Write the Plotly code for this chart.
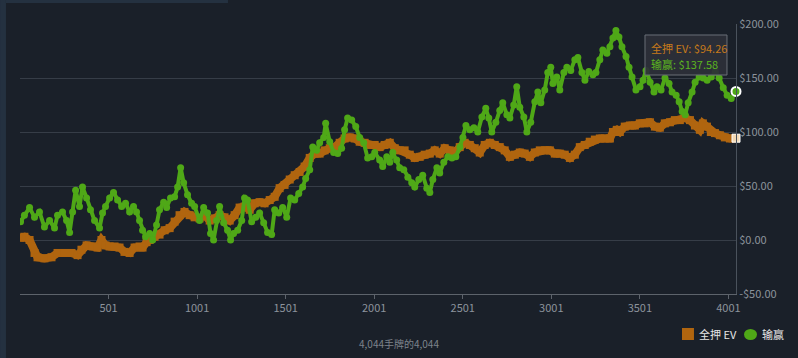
import plotly.graph_objects as go

# ---- data ----
win_hands = [4, 26, 55, 83, 111, 139, 168, 196, 213, 241, 264, 281, 298, 315, 337, 354, 377, 399, 422, 450,
             467, 484, 507, 529, 552, 575, 597, 620, 642, 659, 676, 693, 710, 733, 750, 772, 789, 812, 829, 851,
             874, 891, 908, 925, 947, 970, 987, 1015, 1038, 1060, 1077, 1094, 1111, 1128, 1151, 1173, 1190, 1207,
             1230, 1253, 1269, 1286, 1309, 1332, 1354, 1377, 1399, 1422, 1439, 1462, 1484, 1507, 1529, 1552, 1575,
             1597, 1614, 1637, 1654, 1676, 1693, 1716, 1727, 1750, 1772, 1795, 1817, 1834, 1851, 1874, 1897, 1919,
             1942, 1964, 1987, 2004, 2032, 2049, 2072, 2089, 2106, 2128, 2145, 2168, 2191, 2213, 2230, 2253, 2275,
             2298, 2315, 2332, 2355, 2371, 2394, 2417, 2440, 2462, 2485, 2502, 2519, 2541, 2564, 2586, 2609, 2631,
             2648, 2665, 2688, 2710, 2727, 2750, 2767, 2789, 2806, 2823, 2846, 2863, 2885, 2908, 2925, 2942, 2964,
             2981, 2998, 3010, 3032, 3049, 3072, 3089, 3111, 3134, 3151, 3174, 3191, 3213, 3236, 3253, 3275, 3292,
             3315, 3332, 3349, 3366, 3383, 3400, 3423, 3440, 3457, 3479, 3502, 3519, 3536, 3559, 3581, 3598, 3621,
             3643, 3666, 3683, 3706, 3723, 3740, 3757, 3774, 3796, 3813, 3836, 3859, 3881, 3904, 3927, 3949, 3972,
             3994, 4017, 4044]
win_values = [17, 23, 30, 21, 26, 12, 18, 11, 23, 26, 18, 7, 26, 46, 31, 49, 39, 28, 18, 11,
              25, 31, 39, 44, 37, 31, 34, 26, 31, 26, 18, 9, 3, 6, 0, 14, 28, 35, 30, 39,
              40, 49, 67, 53, 42, 34, 31, 18, 30, 25, 6, 0, 18, 31, 16, 9, 0, 6,
              9, 18, 39, 37, 17, 21, 25, 16, 7, 5, 28, 25, 30, 21, 39, 37, 43,
              49, 57, 65, 86, 83, 90, 95, 108, 91, 81, 80, 85, 102, 113, 111, 105, 95,
              90, 76, 77, 81, 74, 68, 77, 72, 81, 74, 67, 65, 58, 53, 49, 56, 60,
              48, 44, 56, 67, 62, 72, 77, 76, 77, 86, 95, 106, 102, 104, 100, 114, 122,
              113, 100, 109, 120, 127, 116, 113, 125, 142, 123, 114, 100, 109, 128, 137, 127, 139,
              155, 160, 145, 151, 139, 155, 160, 157, 167, 169, 155, 148, 156, 153, 155, 167, 176,
              173, 179, 187, 194, 188, 179, 170, 160, 151, 139, 142, 148, 157, 146, 137, 142, 139,
              150, 145, 137, 134, 128, 119, 116, 127, 137, 146, 151, 150, 148, 151, 156, 150, 141,
              134, 131, 137.58]

ev_hands = [4, 26, 55, 83, 100, 139, 179, 213, 252, 292, 326, 348, 377, 411, 439, 461, 484, 507, 535, 563,
            591, 620, 648, 676, 693, 716, 733, 761, 789, 818, 846, 874, 902, 930, 959, 987, 1015, 1043, 1072,
            1100, 1128, 1156, 1185, 1213, 1241, 1269, 1298, 1326, 1354, 1382, 1411, 1439, 1467, 1495, 1524,
            1552, 1580, 1608, 1637, 1665, 1693, 1721, 1750, 1778, 1806, 1834, 1863, 1891, 1919, 1947, 1976,
            2004, 2032, 2060, 2089, 2117, 2145, 2173, 2202, 2230, 2258, 2286, 2315, 2343, 2371, 2399, 2428,
            2456, 2484, 2512, 2541, 2569, 2597, 2625, 2654, 2682, 2710, 2738, 2767, 2795, 2823, 2851, 2880,
            2908, 2936, 2964, 2993, 3021, 3049, 3077, 3106, 3134, 3162, 3190, 3218, 3247, 3275, 3303, 3332,
            3349, 3371, 3388, 3416, 3445, 3473, 3501, 3529, 3558, 3586, 3614, 3642, 3671, 3699, 3727, 3755,
            3784, 3812, 3840, 3857, 3880, 3902, 3925, 3953, 3981, 4010, 4044]
ev_values = [2, 3, 0, -12, -16, -17, -16, -12, -12, -12, -14, -9, -5, -6, -7, 0, -5, -6, -6, -7,
             -11, -12, -7, -6, -7, -2, 0, 3, 5, 9, 11, 17, 23, 26, 23, 21, 20, 23, 18,
             20, 23, 21, 18, 23, 30, 31, 28, 34, 35, 34, 37, 40, 48, 51, 56,
             60, 63, 68, 76, 80, 80, 83, 85, 86, 90, 94, 95, 94, 91, 90, 88,
             88, 86, 88, 90, 85, 83, 83, 79, 76, 77, 79, 80, 83, 80, 85, 83,
             81, 86, 90, 88, 85, 81, 88, 90, 88, 86, 83, 77, 79, 81, 80, 77,
             81, 83, 83, 83, 80, 80, 79, 76, 79, 86, 88, 91, 93, 94, 94, 94,
             100, 102, 100, 105, 106, 106, 108, 108, 109, 105, 104, 108, 109, 111, 111, 113,
             111, 106, 102, 108, 105, 100, 99, 97, 95, 94, 94.26]

x_tick_vals = [501, 1001, 1501, 2001, 2501, 3001, 3501, 4001]
y_tick_vals = [-50, 0, 50, 100, 150, 200]
y_tick_text = ["-$50.00", "$0.00", "$50.00", "$100.00", "$150.00", "$200.00"]

series_names = ["全押 EV", "输赢"]
ev_color = "#b0650f"
win_color = "#4fa817"
bg = "#1a2029"

fig = go.Figure()

fig.add_trace(go.Scatter(
    x=ev_hands, y=ev_values, mode="lines+markers", name=series_names[0],
    line=dict(color=ev_color, width=8),
    marker=dict(symbol="square", size=8, color=ev_color),
    showlegend=False, hoverinfo="skip"))

fig.add_trace(go.Scatter(
    x=win_hands, y=win_values, mode="lines+markers", name=series_names[1],
    line=dict(color=win_color, width=4),
    marker=dict(symbol="circle", size=7, color=win_color),
    showlegend=False, hoverinfo="skip"))

# hover markers at the last point
fig.add_trace(go.Scatter(
    x=[ev_hands[-1]], y=[ev_values[-1]], mode="markers",
    marker=dict(symbol="square", size=8, color="#f3d9b5", line=dict(color="#ffffff", width=1)),
    showlegend=False, hoverinfo="skip", cliponaxis=False))
fig.add_trace(go.Scatter(
    x=[win_hands[-1]], y=[win_values[-1]], mode="markers",
    marker=dict(symbol="circle", size=9, color=win_color, line=dict(color="#ffffff", width=2)),
    showlegend=False, hoverinfo="skip", cliponaxis=False))

grid = "#363d47"
fig.update_layout(
    width=798, height=358,
    margin=dict(l=20, r=62, t=24, b=64),
    paper_bgcolor=bg, plot_bgcolor=bg,
    font=dict(family="Noto Sans CJK SC, Open Sans, sans-serif", color="#8c939c"),
    xaxis=dict(range=[1, 4044], tickvals=x_tick_vals, ticktext=[str(v) for v in x_tick_vals],
               showgrid=False, zeroline=False, showline=True, linecolor="#5d636b", linewidth=1,
               ticks="outside", ticklen=4, tickcolor="#5d636b",
               tickfont=dict(size=11, color="#8c939c")),
    yaxis=dict(range=[-50, 200], side="right", tickvals=y_tick_vals, ticktext=y_tick_text,
               showgrid=True, gridcolor=grid, gridwidth=1, zeroline=False,
               showline=True, linecolor="#4a525c", linewidth=1,
               ticks="", tickfont=dict(size=11, color="#8c939c")),
    showlegend=False,
    shapes=[
        dict(type="rect", xref="paper", yref="paper", x0=-0.0279, x1=-0.0196, y0=-0.237, y1=1.089,
             fillcolor="#243140", line=dict(width=0), layer="below"),
        dict(type="rect", xref="paper", yref="paper", x0=-0.0196, x1=0.2905, y0=1.078, y1=1.089,
             fillcolor="#243140", line=dict(width=0), layer="below"),
        # legend symbols
        dict(type="rect", xref="paper", yref="paper", x0=0.9246, x1=0.9413, y0=-0.1704, y1=-0.1259,
             fillcolor=ev_color, line=dict(width=0)),
        dict(type="circle", xref="paper", yref="paper", x0=1.0112, x1=1.0293, y0=-0.1704, y1=-0.1296,
             fillcolor=win_color, line=dict(width=0)),
        # tooltip box
        dict(type="rect", xref="paper", yref="paper", x0=0.8729, x1=0.9874, y0=0.8111, y1=0.9593,
             fillcolor="rgba(44,48,56,0.92)", line=dict(color="#6a6f77", width=1), layer="above"),
    ],
    annotations=[
        dict(text="4,044手牌的4,044", xref="paper", yref="paper", x=0.529, y=-0.185,
             xanchor="center", yanchor="middle",
             showarrow=False, font=dict(size=10, color="#7d838b")),
        dict(text=series_names[0], xref="paper", yref="paper", x=0.9455, y=-0.1481,
             xanchor="left", yanchor="middle", showarrow=False, font=dict(size=11, color="#e6e6e6")),
        dict(text=series_names[1], xref="paper", yref="paper", x=1.0335, y=-0.1481,
             xanchor="left", yanchor="middle", showarrow=False, font=dict(size=11, color="#e6e6e6")),
        dict(text="全押 EV: $94.26", xref="paper", yref="paper", x=0.8785, y=0.9111,
             xanchor="left", yanchor="middle", showarrow=False, font=dict(size=11, color="#c77a1a")),
        dict(text="输赢: $137.58", xref="paper", yref="paper", x=0.8785, y=0.8519,
             xanchor="left", yanchor="middle", showarrow=False, font=dict(size=11, color="#5bb51f")),
    ],
)

fig.write_html("out.html", config={"displayModeBar": False},
               post_script="document.body.style.margin='0';document.body.style.background='#1a2029';"
                           "document.body.style.overflow='hidden';")
